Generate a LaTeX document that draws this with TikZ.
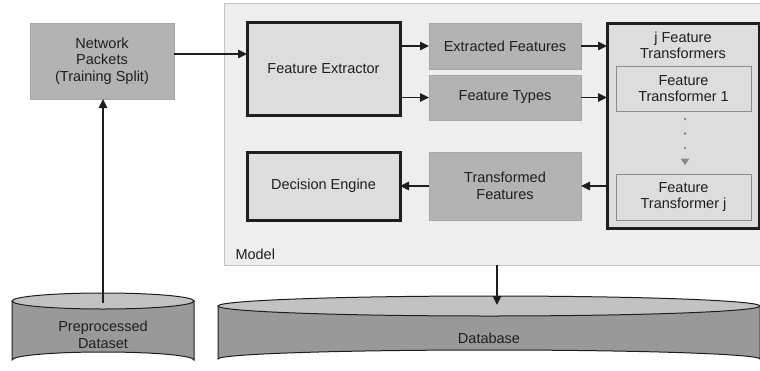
\documentclass[tikz,border=0pt]{standalone}
\usepackage{fontspec}
\setmainfont{Liberation Sans}
\usetikzlibrary{arrows.meta}

\definecolor{modelfill}{HTML}{EEEEEE}
\definecolor{modeledge}{HTML}{C4C4C4}
\definecolor{darkfill}{HTML}{B3B3B3}
\definecolor{darkedge}{HTML}{A6A6A6}
\definecolor{lightfill}{HTML}{DDDDDD}
\definecolor{inneredge}{HTML}{8C8C8C}
\definecolor{inkc}{HTML}{1E1E1E}
\definecolor{cylside}{HTML}{999999}
\definecolor{cyltop}{HTML}{C2C2C2}
\definecolor{dotc}{HTML}{8A8A8A}

\tikzset{
  lbl/.style={font=\fontsize{14.5}{16.5}\selectfont, text=inkc, align=center},
  databox/.style={lbl, draw=darkedge, line width=0.8pt, fill=darkfill, outer sep=0pt},
  procbox/.style={lbl, draw=inkc, line width=3pt, fill=lightfill, outer sep=0pt},
  innerbox/.style={lbl, draw=inneredge, line width=0.8pt, fill=lightfill, outer sep=0pt},
  arr/.style={draw=inkc, line width=1.5pt, -{Triangle[length=9pt,width=8.5pt]}},
  cylbody/.style={fill=cylside, draw=inkc, line width=1pt},
  cyltopst/.style={fill=cyltop, draw=inkc, line width=1pt},
}

\begin{document}
\begin{tikzpicture}[x=1pt, y=-1pt]
  \useasboundingbox (0,0) rectangle (760,370);

  % model container
  \node[draw=modeledge, fill=modelfill, line width=1pt, minimum width=538pt, minimum height=262pt, outer sep=0pt] (model) at (493,134) {};
  \node[lbl, anchor=base west] (modellbl) at (232,259) {Model};

  % training input
  \node[databox, minimum width=144pt, minimum height=76pt] (np) at (102,61) {Network\\Packets\\(Training Split)};

  % processing blocks
  \node[procbox, minimum width=153pt, minimum height=93pt] (fe) at (323.5,68.5) {Feature Extractor};
  \node[databox, minimum width=152pt, minimum height=46pt] (ef) at (505,46) {Extracted Features};
  \node[databox, minimum width=152pt, minimum height=45pt] (ftp) at (505,97.5) {Feature Types};
  \node[procbox, minimum width=152pt, minimum height=205pt] (jft) at (683,125.5) {};
  \node[lbl, anchor=north] (jftlbl) at (683,28) {j Feature\\Transformers};
  \node[innerbox, minimum width=135pt, minimum height=45pt] (ft1) at (683.5,88.5) {Feature\\Transformer 1};
  \node[innerbox, minimum width=135pt, minimum height=46pt] (ftj) at (683.5,197) {Feature\\Transformer j};
  \node[databox, minimum width=152pt, minimum height=68pt] (tf) at (505,186) {Transformed\\Features};
  \node[procbox, minimum width=153pt, minimum height=68pt] (de) at (323.5,186) {Decision Engine};

  % ellipsis between transformers
  \fill[dotc] (685,119) circle (1.3pt) (685,133.5) circle (1.3pt) (685,148) circle (1.3pt);
  \fill[dotc] (680.5,158.5) -- (689.5,158.5) -- (685,165) -- cycle;

  % preprocessed dataset cylinder
  \path[cylbody] (12,301) -- (12,360) arc[start angle=180, end angle=360, x radius=91, y radius=8] -- (194,301) -- cycle;
  \path[cyltopst] (103,301) ellipse[x radius=91, y radius=8];
  \node[lbl] (pre) at (103,335) {Preprocessed\\Dataset};
  \coordinate (pretop) at (103,303);

  % database cylinder
  \path[cylbody] (218,306) -- (218,359) arc[start angle=180, end angle=360, x radius=271, y radius=9] -- (760,306) -- cycle;
  \path[cyltopst] (489,306) ellipse[x radius=271, y radius=10];
  \node[lbl] (db) at (489,338) {Database};
  \coordinate (dbtop) at (497,305);

  % connectors
  \draw[arr] (pretop) -- (np.south -| pretop);
  \draw[arr] ([yshift=7pt]np.east) -- ([yshift=7pt]np.east -| fe.west);
  \draw[arr] (fe.east |- ef.west) -- (ef.west);
  \draw[arr] (fe.east |- ftp.west) -- (ftp.west);
  \draw[arr] (ef.east) -- (ef.east -| jft.west);
  \draw[arr] (ftp.east) -- (ftp.east -| jft.west);
  \draw[arr] (jft.west |- tf.east) -- (tf.east);
  \draw[arr] (tf.west) -- (de.east);
  \draw[arr] (model.south -| dbtop) -- (dbtop);
\end{tikzpicture}
\end{document}
